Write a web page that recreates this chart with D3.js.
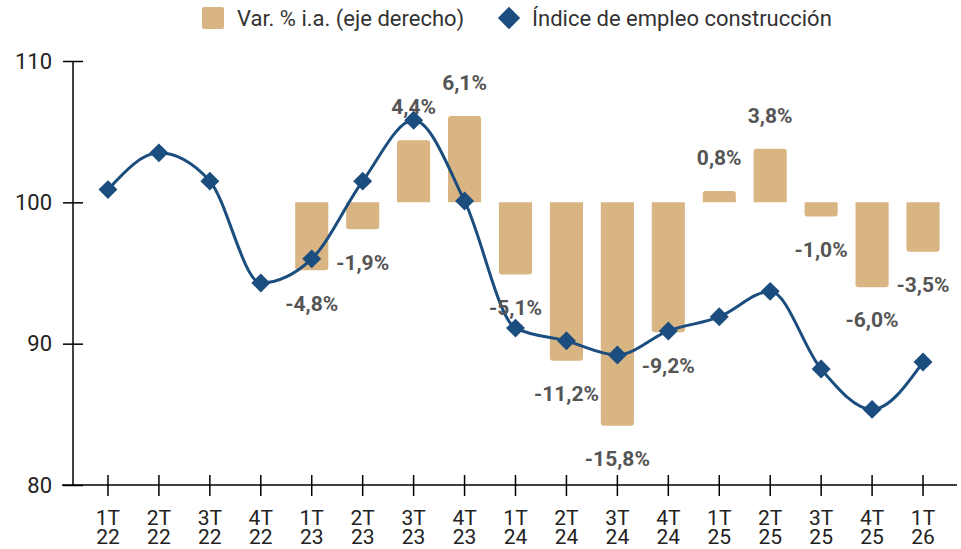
<!DOCTYPE html>
<html>
<head>
<meta charset="utf-8">
<script src="https://cdn.jsdelivr.net/npm/d3@7"></script>
<style>
  body { margin: 0; background: #fff; }
  text { font-family: Roboto, "Noto Sans", sans-serif; }
</style>
</head>
<body>
<div id="chart"></div>
<script>
var quarters = ["1T 22","2T 22","3T 22","4T 22","1T 23","2T 23","3T 23","4T 23",
                "1T 24","2T 24","3T 24","4T 24","1T 25","2T 25","3T 25","4T 25","1T 26"];
var indexValues = [100.9, 103.5, 101.5, 94.3, 96.0, 101.5, 105.8, 100.1,
                   91.1, 90.2, 89.2, 90.9, 91.9, 93.7, 88.2, 85.35, 88.7];
var varValues = [null, null, null, null, -4.8, -1.9, 4.4, 6.1,
                 -5.1, -11.2, -15.8, -9.2, 0.8, 3.8, -1.0, -6.0, -3.5];
var leftTicks = [80, 90, 100, 110];
var legendLabels = ["Var. % i.a. (eje derecho)", "Índice de empleo construcción"];

var width = 961, height = 549;
var barColor = "#d9b583", lineColor = "#1b4d7e", labelColor = "#555555";

var svg = d3.select("#chart").append("svg")
    .attr("width", width)
    .attr("height", height);

var x = d3.scaleBand()
    .domain(quarters)
    .range([82.5, 948.5])
    .paddingInner(0.35)
    .paddingOuter(0.175);

var y = d3.scaleLinear()
    .domain([80, 110])
    .range([485, 61]);

// eje derecho (oculto): mismo paso que el izquierdo, 0 en 100
var y2 = d3.scaleLinear()
    .domain([-20, 10])
    .range([485, 61]);

var locale = d3.formatLocale({decimal: ",", thousands: ".", grouping: [3], currency: ["", "€"], minus: "-"});
var fmt = locale.format(".1f");

// eje Y
var yAxis = svg.append("g")
    .attr("transform", "translate(73,0)")
    .call(d3.axisLeft(y).tickValues(leftTicks).tickSize(10).tickPadding(10).tickSizeOuter(0));
yAxis.select(".domain").remove();
yAxis.selectAll(".tick line").attr("x1", -10).attr("x2", 10).attr("stroke", "#000").attr("stroke-width", 1.5);
yAxis.selectAll(".tick text").attr("x", -21).style("font-size", "22px").attr("fill", "#222");
svg.append("line")
    .attr("x1", 73).attr("x2", 73)
    .attr("y1", y(110)).attr("y2", y(80))
    .attr("stroke", "#000").attr("stroke-width", 1.5);

// eje X
var xAxis = svg.append("g")
    .attr("transform", "translate(0," + y(80) + ")")
    .call(d3.axisBottom(x).tickSize(10).tickSizeOuter(0));
xAxis.select(".domain").remove();
xAxis.selectAll(".tick line").attr("y1", -10).attr("y2", 11).attr("stroke", "#000").attr("stroke-width", 1.5);
xAxis.selectAll(".tick text").remove();
xAxis.selectAll(".tick").each(function(d) {
  var parts = d.split(" ");
  var t = d3.select(this).append("text")
      .attr("fill", "#222")
      .attr("text-anchor", "middle")
      .style("font-size", "21px");
  t.append("tspan").attr("x", 0).attr("y", 40).text(parts[0]);
  t.append("tspan").attr("x", 0).attr("y", 59).text(parts[1]);
});
svg.append("line")
    .attr("x1", 62).attr("x2", 957)
    .attr("y1", y(80)).attr("y2", y(80))
    .attr("stroke", "#000").attr("stroke-width", 1.5);

// barras con el extremo redondeado
function barPath(d, i) {
  var x0 = x(quarters[i]), w = x.bandwidth();
  var y0 = y2(0), y1 = y2(d), r = Math.min(3, Math.abs(y1 - y0));
  var s = y1 < y0 ? 1 : -1;
  return "M" + x0 + "," + y0 +
         "V" + (y1 + s * r) +
         "Q" + x0 + "," + y1 + " " + (x0 + r) + "," + y1 +
         "H" + (x0 + w - r) +
         "Q" + (x0 + w) + "," + y1 + " " + (x0 + w) + "," + (y1 + s * r) +
         "V" + y0 + "Z";
}

var bars = varValues.map(function(v, i) { return {v: v, i: i}; })
    .filter(function(d) { return d.v !== null; });

svg.selectAll(".bar")
    .data(bars)
  .enter().append("path")
    .attr("class", "bar")
    .attr("d", function(d) { return barPath(d.v, d.i); })
    .attr("fill", barColor);

// línea
var line = d3.line()
    .x(function(d, i) { return x(quarters[i]) + x.bandwidth() / 2; })
    .y(function(d) { return y(d); })
    .curve(d3.curveMonotoneX);

svg.append("path")
    .datum(indexValues)
    .attr("d", line)
    .attr("fill", "none")
    .attr("stroke", lineColor)
    .attr("stroke-width", 3);

var diamond = d3.symbol().type(d3.symbolSquare).size(180);
svg.selectAll(".marker")
    .data(indexValues)
  .enter().append("path")
    .attr("class", "marker")
    .attr("d", diamond)
    .attr("transform", function(d, i) {
      return "translate(" + (x(quarters[i]) + x.bandwidth() / 2) + "," + y(d) + ") rotate(45)";
    })
    .attr("fill", lineColor);

// etiquetas
svg.selectAll(".lbl")
    .data(bars)
  .enter().append("text")
    .attr("class", "lbl")
    .attr("x", function(d) { return x(quarters[d.i]) + x.bandwidth() / 2; })
    .attr("y", function(d) { return y2(d.v) + (d.v >= 0 ? -33 : 33); })
    .attr("dy", "0.35em")
    .attr("text-anchor", "middle")
    .attr("fill", labelColor)
    .style("font-size", "21px")
    .style("font-weight", "bold")
    .text(function(d) { return fmt(d.v) + "%"; });

// leyenda
var legend = svg.append("g");
legend.append("rect")
    .attr("x", 202).attr("y", 7)
    .attr("width", 22).attr("height", 22)
    .attr("rx", 2)
    .attr("fill", barColor);
legend.append("text")
    .attr("x", 237).attr("y", 26)
    .attr("fill", "#333")
    .style("font-size", "22px")
    .text(legendLabels[0]);
legend.append("path")
    .attr("d", d3.symbol().type(d3.symbolSquare).size(250))
    .attr("transform", "translate(509,18) rotate(45)")
    .attr("fill", lineColor);
legend.append("text")
    .attr("x", 532).attr("y", 26)
    .attr("fill", "#333")
    .style("font-size", "22px")
    .text(legendLabels[1]);
</script>
</body>
</html>
